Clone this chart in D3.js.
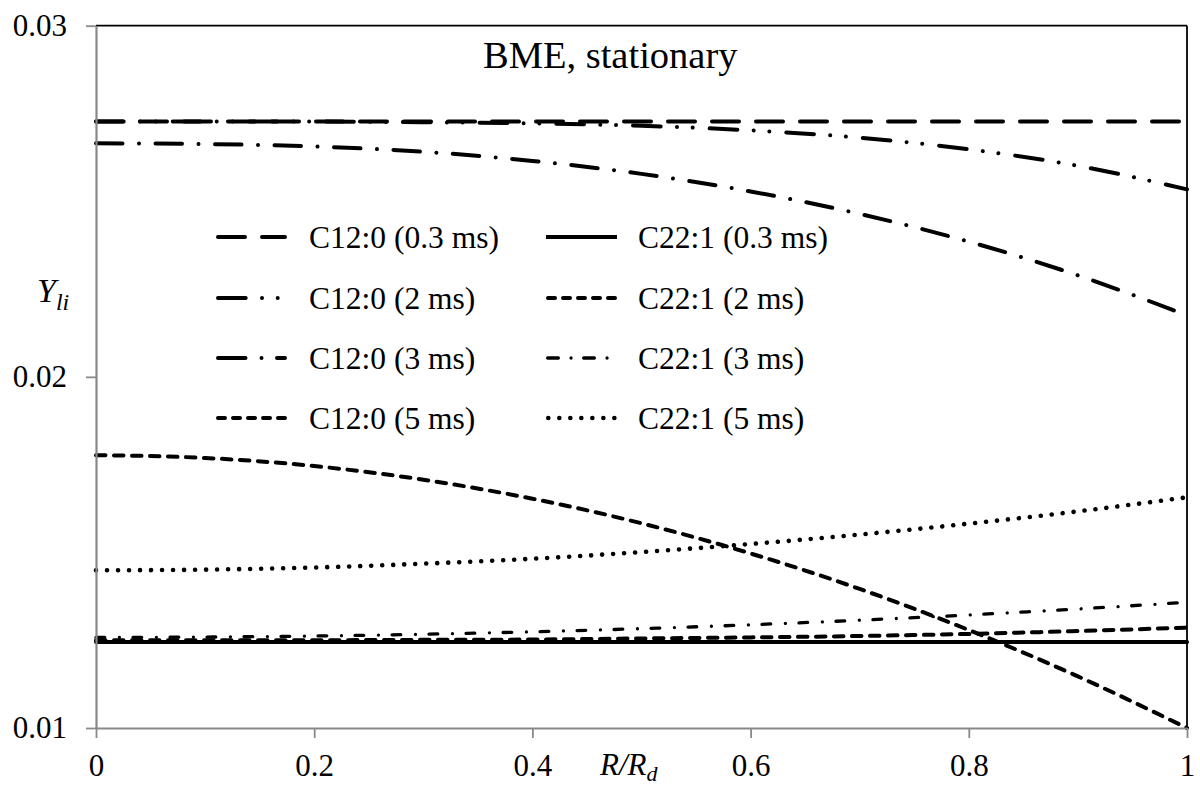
<!DOCTYPE html>
<html>
<head>
<meta charset="utf-8">
<script src="https://cdn.jsdelivr.net/npm/d3@7"></script>
<style>
  html, body { margin: 0; padding: 0; background: #fff; }
  svg { display: block; }
  svg text { font-family: "Liberation Serif", "Times New Roman", serif; fill: #000; }
</style>
</head>
<body>
<svg id="chart" width="1200" height="787"></svg>
<script>
// Radial position R/Rd
const radius = [0, 0.1, 0.2, 0.3, 0.4, 0.5, 0.6, 0.7, 0.8, 0.9, 1.0];

// Liquid mass fractions Y_li of C12:0 at four times
const c12_03ms = [0.02727, 0.02727, 0.02727, 0.02727, 0.02727, 0.02727, 0.02727, 0.02727, 0.02727, 0.02727, 0.02727];
const c12_2ms  = [0.02727, 0.02727, 0.02727, 0.02725, 0.02722, 0.02715, 0.02702, 0.02681, 0.02648, 0.02601, 0.02534];
const c12_3ms  = [0.02665, 0.02663, 0.02656, 0.02641, 0.02615, 0.02578, 0.02528, 0.02464, 0.02385, 0.02289, 0.02175];
const c12_5ms  = [0.01777, 0.01769, 0.01746, 0.01707, 0.01653, 0.01583, 0.01497, 0.01396, 0.01279, 0.01147, 0.01000];

// Liquid mass fractions Y_li of C22:1 at four times
const c22_03ms = [0.01245, 0.01245, 0.01245, 0.01245, 0.01245, 0.01245, 0.01245, 0.01245, 0.01245, 0.01245, 0.01245];
const c22_2ms  = [0.01250, 0.01250, 0.01250, 0.01251, 0.01252, 0.01255, 0.01258, 0.01262, 0.01268, 0.01276, 0.01286];
const c22_3ms  = [0.01258, 0.01259, 0.01262, 0.01267, 0.01274, 0.01283, 0.01294, 0.01307, 0.01322, 0.01339, 0.01358];
const c22_5ms  = [0.01449, 0.01451, 0.01457, 0.01468, 0.01482, 0.01501, 0.01524, 0.01551, 0.01582, 0.01617, 0.01657];

const seriesNames = [
  "C12:0 (0.3 ms)", "C12:0 (2 ms)", "C12:0 (3 ms)", "C12:0 (5 ms)",
  "C22:1 (0.3 ms)", "C22:1 (2 ms)", "C22:1 (3 ms)", "C22:1 (5 ms)"
];
const seriesValues = [c12_03ms, c12_2ms, c12_3ms, c12_5ms, c22_03ms, c22_2ms, c22_3ms, c22_5ms];

const xTicks = [0, 0.2, 0.4, 0.6, 0.8, 1];
const yTicks = [0.01, 0.02, 0.03];

// Line styles (round caps): width, dash pattern on the plot, dash pattern in the legend key
const styles = [
  { w: 4.0, dash: "27,17",                          key: "27,17" },
  { w: 4.0, dash: "27.7,16.3,0.01,15.7,0.01,17",    key: "27.7,16.3,0.01,15.7,0.01,17" },
  { w: 4.0, dash: "26.5,16.5,0.01,16.5",            key: "27.5,16,0.01,15.5" },
  { w: 4.0, dash: "9.5,8.5",                        key: "7,8" },
  { w: 4.0, dash: null,                             key: null },
  { w: 4.0, dash: "9.5,8.5",                        key: "7,8" },
  { w: 3.3, dash: "8.7,14.7,0.01,13.6",             key: "10.7,12.7,0.01,12.6" },
  { w: 4.6, dash: "0.01,11",                        key: "0.01,11" }
];

const svg = d3.select("#chart");
const x = d3.scaleLinear().domain([0, 1]).range([96, 1187]);
const y = d3.scaleLinear().domain([0.01, 0.03]).range([728, 25.7]);

const axisGray = "#898989";
const serif = "'Liberation Serif', 'Times New Roman', serif";

// Frame: black top and right borders
svg.append("line").attr("x1", x(0)).attr("x2", x(1)).attr("y1", y(0.03)).attr("y2", y(0.03))
  .attr("stroke", "#000").attr("stroke-width", 1.8);
svg.append("line").attr("x1", x(1)).attr("x2", x(1)).attr("y1", y(0.03)).attr("y2", y(0.01))
  .attr("stroke", "#000").attr("stroke-width", 1.8);

// Series curves
const line = d3.line()
  .x((d, i) => x(radius[i]))
  .y(d => y(d))
  .curve(d3.curveMonotoneX);

seriesValues.forEach((vals, k) => {
  const st = styles[k];
  svg.append("path")
    .datum(vals)
    .attr("d", line)
    .attr("fill", "none")
    .attr("stroke", "#000")
    .attr("stroke-width", st.w)
    .attr("stroke-linecap", "round")
    .attr("stroke-dasharray", st.dash);
});

// Left axis
const yAxis = svg.append("g")
  .attr("transform", `translate(${x(0)},0)`)
  .call(d3.axisLeft(y).tickValues(yTicks).tickSize(10).tickSizeOuter(0)
    .tickPadding(19).tickFormat(d3.format(".2f")));
yAxis.attr("font-family", serif);
yAxis.select(".domain").attr("stroke", axisGray).attr("stroke-width", 2.2);
yAxis.selectAll(".tick line").attr("stroke", axisGray).attr("stroke-width", 1.8);
yAxis.selectAll(".tick text").attr("fill", "#000").attr("font-size", 31).attr("font-family", serif);

// Bottom axis
const xAxis = svg.append("g")
  .attr("transform", `translate(0,${y(0.01)})`)
  .call(d3.axisBottom(x).tickValues(xTicks).tickSize(10).tickSizeOuter(0)
    .tickPadding(16).tickFormat(d => (d === 0 || d === 1) ? String(d) : d3.format(".1f")(d)));
xAxis.attr("font-family", serif);
xAxis.select(".domain").attr("stroke", axisGray).attr("stroke-width", 2.2);
xAxis.selectAll(".tick line").attr("stroke", axisGray).attr("stroke-width", 1.8);
xAxis.selectAll(".tick text").attr("fill", "#000").attr("font-size", 31).attr("font-family", serif);

// Title
svg.append("text")
  .attr("x", 483).attr("y", 68)
  .attr("font-size", 38.5)
  .text("BME, stationary");

// Axis titles
const yl = svg.append("text").attr("x", 37).attr("y", 302).attr("font-size", 34).attr("font-style", "italic");
yl.append("tspan").text("Y");
yl.append("tspan").attr("dy", 8).attr("font-size", 24).text("li");

const xl = svg.append("text").attr("x", 600).attr("y", 775).attr("font-size", 31).attr("font-style", "italic");
xl.append("tspan").text("R/R");
xl.append("tspan").attr("dy", 6).attr("font-size", 22).text("d");

// Legend: two columns, four rows
const rowY = [237, 298, 358, 418];
const colKeyX = [216, 546];
const colTextX = [309, 638];
const keyLen = 71;

seriesNames.forEach((name, k) => {
  const col = k < 4 ? 0 : 1;
  const row = k % 4;
  const st = styles[k];
  const ly = rowY[row];
  const half = st.key ? st.w / 2 : 0;
  svg.append("line")
    .attr("x1", colKeyX[col] + half)
    .attr("x2", colKeyX[col] + keyLen - half)
    .attr("y1", ly).attr("y2", ly)
    .attr("stroke", "#000")
    .attr("stroke-width", st.w)
    .attr("stroke-linecap", st.key ? "round" : "butt")
    .attr("stroke-dasharray", st.key);
  svg.append("text")
    .attr("x", colTextX[col]).attr("y", ly + 10.5)
    .attr("font-size", 31.5)
    .text(name);
});
</script>
</body>
</html>
